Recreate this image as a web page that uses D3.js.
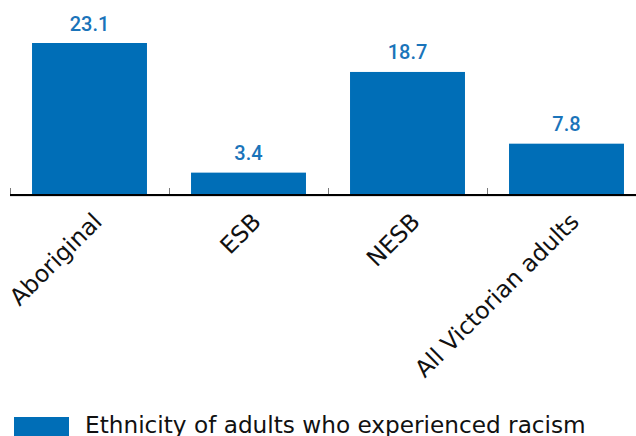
<!DOCTYPE html>
<html>
<head>
<meta charset="utf-8">
<script src="https://cdn.jsdelivr.net/npm/d3@7"></script>
<style>
  html, body { margin: 0; padding: 0; background: #fff; }
  svg { display: block; }
</style>
</head>
<body>
<svg id="chart" width="636" height="436"></svg>
<script>
// Share of adults who experienced racism, by ethnicity (%)
const categories = ["Aboriginal", "ESB", "NESB", "All Victorian adults"];
const values = [23.1, 3.4, 18.7, 7.8];
const seriesName = "Ethnicity of adults who experienced racism";

const W = 636, H = 436;
const axisY = 195;
const barColor = "#006eb7";
const labelColor = "#1a74ba";
const textFont = "'DejaVu Sans', sans-serif";

const svg = d3.select("#chart");

const x = d3.scaleBand()
  .domain(categories)
  .range([10, 646])
  .paddingInner(0.277)
  .paddingOuter(0.1385);

const y = d3.scaleLinear()
  .domain([0, 25])
  .range([axisY, 30.5]);

// faint rule under the baseline
svg.append("line")
  .attr("x1", 10).attr("x2", W)
  .attr("y1", 196.5).attr("y2", 196.5)
  .attr("stroke", "#e2e2e2").attr("stroke-width", 1);

// bars
svg.append("g").selectAll("rect")
  .data(values)
  .join("rect")
  .attr("x", (d, i) => x(categories[i]))
  .attr("width", x.bandwidth())
  .attr("y", d => y(d))
  .attr("height", d => y(0) - y(d))
  .attr("fill", barColor);

// category axis: ticks at band boundaries, pointing up
const axis = d3.axisBottom(x).tickSize(0).tickFormat("");
const gAxis = svg.append("g")
  .attr("transform", `translate(0,${axisY})`)
  .call(axis);
gAxis.select(".domain").remove();

gAxis.selectAll(".band-tick")
  .data(categories)
  .join("line")
  .attr("class", "band-tick")
  .attr("x1", d => Math.round(x(d) - x.step() * x.paddingInner() / 2) + 0.5)
  .attr("x2", d => Math.round(x(d) - x.step() * x.paddingInner() / 2) + 0.5)
  .attr("y1", -7).attr("y2", 0)
  .attr("stroke", "#7a7a7a").attr("stroke-width", 1);

gAxis.append("line")
  .attr("x1", 10).attr("x2", W)
  .attr("y1", 0).attr("y2", 0)
  .attr("stroke", "#000").attr("stroke-width", 2);

// rotated category labels
svg.append("g").selectAll("text")
  .data(categories)
  .join("text")
  .attr("transform", d => `translate(${x(d) + x.bandwidth() / 2 + 14},${axisY + 28}) rotate(-45)`)
  .attr("text-anchor", "end")
  .attr("font-family", textFont)
  .attr("font-size", 23.5)
  .attr("fill", "#111")
  .text(d => d);

// value labels above bars
svg.append("g").selectAll("text")
  .data(values)
  .join("text")
  .attr("x", (d, i) => x(categories[i]) + x.bandwidth() / 2)
  .attr("y", d => y(d) - 12.5)
  .attr("text-anchor", "middle")
  .attr("font-family", "Roboto, sans-serif")
  .attr("font-weight", 500)
  .attr("font-size", 20)
  .attr("fill", labelColor)
  .text(d => d.toFixed(1));

// legend
const legend = svg.append("g");
legend.append("rect")
  .attr("x", 14).attr("y", 417)
  .attr("width", 55).attr("height", 19)
  .attr("fill", barColor);
legend.append("text")
  .attr("x", 85).attr("y", 432.5)
  .attr("font-family", textFont)
  .attr("font-size", 23.2)
  .attr("fill", "#111")
  .text(seriesName);
</script>
</body>
</html>
